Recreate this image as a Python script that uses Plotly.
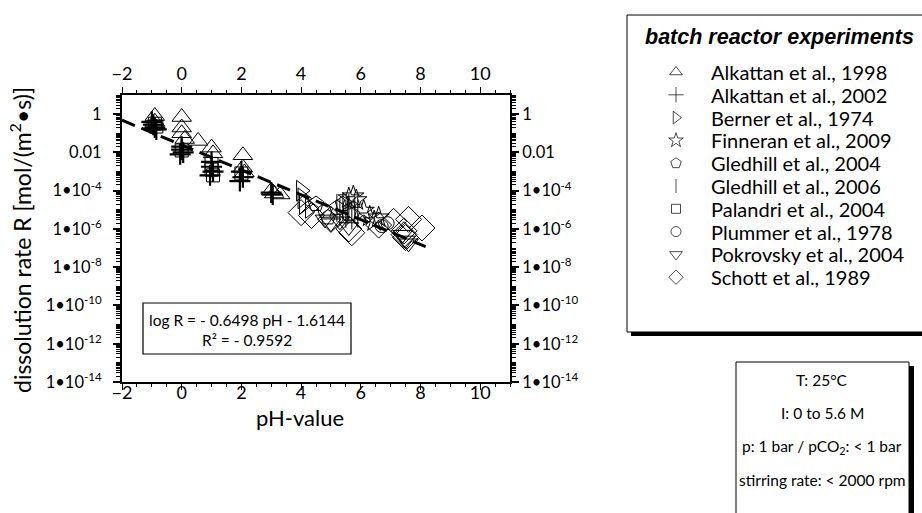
import plotly.graph_objects as go

W, H = 922, 513
PL, PR, PT, PB = 122, 510, 95, 382  # plot area in pixels

# ---------------- data (pH, log10 R) ----------------
series_names = ["Alkattan et al., 1998", "Alkattan et al., 2002", "Berner et al., 1974",
                "Finneran et al., 2009", "Gledhill et al., 2004", "Gledhill et al., 2006",
                "Palandri et al., 2004", "Plummer et al., 1978", "Pokrovsky et al., 2004",
                "Schott et al., 1989"]

alk98_ph = [-0.9, -0.9, 0, 0, 0, 0.1, 0.55, 1.0, 1.05, 2.05, 2.05, 2.1, 3.0, 3.1, 3.3]
alk98_lr = [-0.1, -0.4, -0.15, -0.7, -1.0, -1.3, -1.4, -1.75, -2.05, -2.15, -2.8, -3.05, -4.0, -4.15, -4.2]

alk02_ph = [-1.0, -0.95, -0.9, -0.85, 0, 0, 0.05, -0.05, 1.0, 1.0, 1.05, 0.95, 2.0, 2.05, 1.95, 3.0, 3.05]
alk02_lr = [-0.4, -0.55, -0.7, -0.8, -1.7, -1.85, -2.0, -2.1, -2.5, -2.75, -3.0, -3.2, -3.0, -3.3, -3.5, -4.1, -4.2]

bern_ph = [4.0, 4.05, 4.1, 4.3]
bern_lr = [-4.0, -4.4, -4.7, -4.9]

finn_ph = [5.6, 5.75, 5.85, 6.1, 6.3, 6.45, 6.6]
finn_lr = [-4.4, -4.3, -4.5, -5.05, -5.35, -5.6, -5.4]

gl04_ph = [4.5, 4.8, 4.9, 5.2, 5.4, 5.6]
gl04_lr = [-4.7, -5.05, -5.4, -4.9, -4.7, -5.2]

gl06_ph = [5.2, 5.3, 5.4, 5.5, 5.55, 5.6, 5.7, 5.8, 5.9]
gl06_lr = [-4.9, -5.1, -4.8, -5.2, -5.0, -4.9, -5.3, -5.0, -5.2]

pal_ph = [-0.9, -0.85, 0.0, 1.0, 1.0, 1.05, 2.0]
pal_lr = [-0.5, -0.65, -1.9, -2.6, -2.9, -3.2, -3.1]

plum_ph = [6.7, 6.9]
plum_lr = [-5.85, -5.7]

pok_ph = [4.8, 5.0, 5.3, 5.6, 7.4, 7.5, 7.6]
pok_lr = [-5.5, -5.7, -5.6, -5.9, -6.3, -6.6, -6.75]

sch_ph = [4.0, 4.35, 5.0, 5.6, 5.7, 6.6, 7.1, 7.45, 7.45, 7.5, 7.6, 8.05]
sch_lr = [-5.15, -5.3, -5.5, -6.0, -6.2, -5.8, -5.6, -6.1, -6.3, -6.45, -5.5, -5.95]

series_ph = [alk98_ph, alk02_ph, bern_ph, finn_ph, gl04_ph, gl06_ph, pal_ph, plum_ph, pok_ph, sch_ph]
series_lr = [alk98_lr, alk02_lr, bern_lr, finn_lr, gl04_lr, gl06_lr, pal_lr, plum_lr, pok_lr, sch_lr]

# regression: log R = slope*pH + intercept
fit_slope = -0.6498
fit_intercept = -1.6144
fit_r2 = "- 0.9592"
fit_ph = [-2.0, 8.3]

x_tickvals = [-2, 0, 2, 4, 6, 8, 10]
y_exponents = [0, -2, -4, -6, -8, -10, -12, -14]
y_ticktext = ["1", "0.01"] + ["1\u202210<sup>%d</sup>" % e for e in y_exponents[2:]]

cond_lines = ["T: 25°C", "I: 0 to 5.6 M", "p: 1 bar / pCO<sub>2</sub>: < 1 bar",
              "stirring rate: < 2000 rpm"]

# ---------------- styles ----------------
symbols = ["triangle-up-open", "cross-thin-open", "triangle-right-open", "star-open",
           "pentagon-open", "line-ns-open", "square-open", "circle-open",
           "triangle-down-open", "diamond-open"]
sizes = [17, 15, 18, 16, 16, 20, 13, 13, 17, 20]
widths = [1, 2.2, 1, 1, 1, 1, 1, 1, 1, 1]
leg_sizes = [11, 11, 11, 11, 11, 10, 9, 10, 11, 11]

FONT = "Lato"

def px_x(p):
    return p / W

def px_y(p):
    return 1 - p / H

def text_at(x, y, text, size, xanchor="center", family=FONT, **kw):
    return dict(xref="paper", yref="paper", x=px_x(x), y=px_y(y), text=text,
                xanchor=xanchor, yanchor="middle", showarrow=False,
                font=dict(family=family, size=size, color="black"), **kw)

fig = go.Figure()

for i in range(len(series_names)):
    fig.add_trace(go.Scatter(
        x=series_ph[i], y=[10 ** v for v in series_lr[i]], mode="markers",
        name=series_names[i], showlegend=False, xaxis="x", yaxis="y",
        marker=dict(symbol=symbols[i], size=sizes[i], color="black",
                    line=dict(color="black", width=widths[i]))))

# regression line (drawn on the mirrored top/right axes, identical ranges)
fig.add_trace(go.Scatter(
    x=fit_ph, y=[10 ** (fit_slope * v + fit_intercept) for v in fit_ph],
    mode="lines", line=dict(color="black", width=3, dash="14px,7px"),
    showlegend=False, hoverinfo="skip", xaxis="x2", yaxis="y2"))

# legend keys (on an auxiliary axis placed over the legend box)
fig.add_trace(go.Scatter(
    x=[0.5] * len(series_names), y=list(range(len(series_names))), mode="markers",
    showlegend=False, hoverinfo="skip", xaxis="x3", yaxis="y3",
    marker=dict(symbol=symbols, size=leg_sizes, color="black",
                line=dict(color="black", width=1))))

xtickfont = dict(family=FONT, size=18, color="black")
ytickfont = dict(family=FONT, size=16.5, color="black")
common_x = dict(range=[-2, 11], tickmode="array", tickvals=x_tickvals, ticks="outside",
                ticklen=6, tickwidth=1.2, tickcolor="black", showline=True, linecolor="black",
                linewidth=1.5, showgrid=False, zeroline=False, tickfont=xtickfont,
                automargin=False,
                minor=dict(ticks="outside", ticklen=3, tickwidth=1, tickcolor="black",
                           dtick=0.5, tick0=0, showgrid=False),
                domain=[PL / W, PR / W])
common_y = dict(type="log", range=[-14, 1], tickmode="array",
                tickvals=[10 ** e for e in y_exponents], ticktext=y_ticktext,
                ticks="outside", ticklen=7, tickwidth=1.5, tickcolor="black", showline=True,
                linecolor="black", linewidth=2, showgrid=False, zeroline=False,
                tickfont=ytickfont, automargin=False,
                minor=dict(ticks="outside", ticklen=4, tickwidth=1, tickcolor="black",
                           dtick="D1", showgrid=False),
                domain=[1 - PB / H, 1 - PT / H])

leg_top, leg_step = 72, 22.8
n = len(series_names)
fig.update_layout(
    width=W, height=H, margin=dict(l=0, r=0, t=0, b=0),
    paper_bgcolor="white", plot_bgcolor="rgba(0,0,0,0)",
    xaxis=dict(common_x, anchor="y", side="bottom", ticklabelstandoff=-12),
    xaxis2=dict(common_x, anchor="y2", side="top", overlaying="x", ticklabelstandoff=0),
    yaxis=dict(common_y, anchor="x", side="left", ticklabelstandoff=8),
    yaxis2=dict(common_y, anchor="x2", side="right", overlaying="y", ticklabelstandoff=0),
    xaxis3=dict(domain=[px_x(666), px_x(686)], range=[0, 1], visible=False, anchor="y3",
                fixedrange=True),
    yaxis3=dict(domain=[px_y(leg_top + leg_step * (n - 0.5)), px_y(leg_top - leg_step * 0.5)],
                range=[n - 0.5, -0.5], visible=False, anchor="x3", fixedrange=True),
    font=dict(family=FONT, color="black"),
)

shapes = []
annotations = []

# equation box
shapes.append(dict(type="rect", xref="paper", yref="paper", x0=px_x(143), x1=px_x(351),
                   y0=px_y(354), y1=px_y(303), line=dict(color="black", width=1.2),
                   layer="below"))
annotations.append(text_at(247, 320, "log R = - %.4f pH - %.4f" % (abs(fit_slope), abs(fit_intercept)), 15.5))
annotations.append(text_at(247, 340, "R² = %s" % fit_r2, 15.5))

# axis titles
annotations.append(text_at(300, 417, "pH-value", 22))
annotations.append(text_at(20, 240, "dissolution rate R [mol/(m<sup>2</sup>\u2022s)]", 23,
                           textangle=-90))

# legend box
shapes.append(dict(type="rect", xref="paper", yref="paper", x0=px_x(631), x1=px_x(935),
                   y0=px_y(336), y1=px_y(20), fillcolor="black", line=dict(width=0),
                   layer="below"))
shapes.append(dict(type="rect", xref="paper", yref="paper", x0=px_x(627), x1=px_x(930),
                   y0=px_y(332), y1=px_y(15), fillcolor="white",
                   line=dict(color="black", width=1), layer="below"))
annotations.append(text_at(643, 37, "<b><i>batch reactor experiments</i></b>", 21.5,
                           xanchor="left", family="Liberation Sans"))
for i, name in enumerate(series_names):
    annotations.append(text_at(709, leg_top + leg_step * i, name, 20, xanchor="left"))

# conditions box
shapes.append(dict(type="rect", xref="paper", yref="paper", x0=px_x(740), x1=px_x(914),
                   y0=px_y(520), y1=px_y(366), fillcolor="black", line=dict(width=0),
                   layer="below"))
shapes.append(dict(type="rect", xref="paper", yref="paper", x0=px_x(736), x1=px_x(909),
                   y0=px_y(520), y1=px_y(362), fillcolor="white",
                   line=dict(color="black", width=1), layer="below"))
for j, t in enumerate(cond_lines):
    annotations.append(text_at(822, 380 + 33.3 * j, t, 15.5))

fig.update_layout(shapes=shapes, annotations=annotations)
fig.write_html("out.html")
